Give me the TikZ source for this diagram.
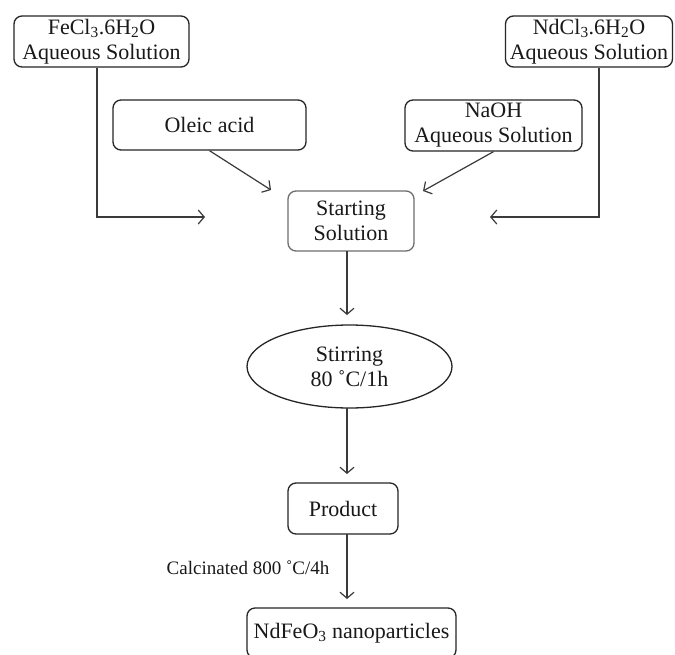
\documentclass[tikz,border=0pt]{standalone}
\usepackage{fontspec}
\setmainfont{Liberation Serif}
\usetikzlibrary{arrows.meta,shapes.geometric}
\definecolor{linec}{HTML}{3A3A3A}
\definecolor{boxc}{HTML}{262626}
\definecolor{greyc}{HTML}{6E6E6E}
\tikzset{
  txt/.style={font=\fontsize{22}{25}\selectfont, text=black!90, align=center, inner sep=0pt},
  rbox/.style={txt, draw=boxc, line width=1.3pt, rounded corners=8pt},
  ebox/.style={txt, draw=boxc, line width=1.3pt, ellipse},
  conn/.style={draw=linec, line width=1.2pt, -{Straight Barb[length=6pt,width=14pt,line width=1.2pt]}},
  lbl/.style={font=\fontsize{19}{22}\selectfont, text=black!90, inner sep=0pt}
}
\begin{document}
\begin{tikzpicture}[x=1pt,y=-1pt]
\useasboundingbox (0,0) rectangle (675,654);
\clip (0,0) rectangle (675,654);
\fill[white] (0,0) rectangle (675,654);
% nodes
\node[rbox, minimum width=175pt, minimum height=51pt] (fe) at (101.5,41.5) {FeCl\textsubscript{3}.6H\textsubscript{2}O\\Aqueous Solution};
\node[rbox, minimum width=167pt, minimum height=51pt] (nd) at (589,41.5) {NdCl\textsubscript{3}.6H\textsubscript{2}O\\Aqueous Solution};
\node[rbox, minimum width=193pt, minimum height=50pt] (ole) at (209.5,125) {Oleic acid};
\node[rbox, minimum width=177pt, minimum height=51pt] (naoh) at (493.5,125.5) {NaOH\\Aqueous Solution};
\node[rbox, draw=greyc, minimum width=126pt, minimum height=60pt] (start) at (351,221) {Starting\\Solution};
\node[ebox, minimum width=205pt, minimum height=83pt] (stir) at (349.5,366.5) {Stirring\\80 ˚C/1h};
\node[rbox, minimum width=110pt, minimum height=51pt] (prod) at (343,508.5) {Product};
\node[rbox, minimum width=209pt, minimum height=50pt] (ndfeo) at (351.5,633) {NdFeO\textsubscript{3} nanoparticles};
\node[lbl] (calc) at (248,568) {Calcinated 800 ˚C/4h};
% free ends
\coordinate (fecorner) at (97,217);
\coordinate (feend) at (205,217);
\coordinate (ndcorner) at (599,217);
\coordinate (ndend) at (490,217);
\coordinate (oleend) at (271,190);
\coordinate (naohend) at (423,191);
\coordinate (startout) at (347,251);
\coordinate (stirin) at (347,315);
\coordinate (stirout) at (347,408);
\coordinate (prodin) at (347,474);
\coordinate (prodout) at (347,534);
\coordinate (ndfeoin) at (347,599);
% connectors
\draw[conn] ([xshift=-4.5pt]fe.south) |- (feend);
\draw[conn] ([xshift=10pt]nd.south) |- (ndend);
\draw[conn] (ole.south) -- (oleend);
\draw[conn] (naoh.south) -- (naohend);
\draw[conn] (startout) -- (stirin);
\draw[conn] (stirout) -- (prodin);
\draw[conn] (prodout) -- (ndfeoin);
\end{tikzpicture}
\end{document}
